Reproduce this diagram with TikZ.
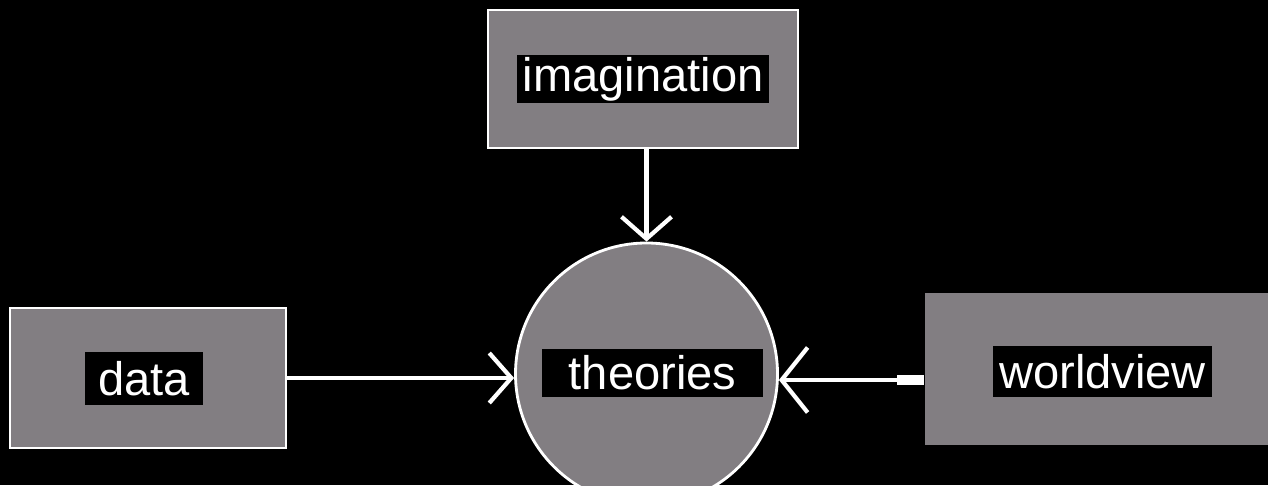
\documentclass[tikz,border=0pt]{standalone}
\usepackage{fontspec}
\setmainfont{Liberation Sans}
\usetikzlibrary{arrows.meta, calc}
\definecolor{boxgray}{RGB}{130,126,130}

\begin{document}
\begin{tikzpicture}[>={Straight Barb[length=2.2mm, width=5mm]}, line width=1.1pt,
  every node/.style={font=\fontsize{13.4pt}{16pt}\selectfont},
  box/.style={draw=white, fill=boxgray, line width=0.8pt, inner sep=0pt},
  tag/.style={fill=black, text=white, inner sep=0pt, minimum height=0.48cm},
  flow/.style={->, draw=white, line width=1.2pt}]
  \fill[black] (0,0) rectangle (12.68,4.85);
  \clip (0,0) rectangle (12.68,4.85);
  \node[box, minimum width=3.10cm, minimum height=1.38cm] (imagination) at (6.43,4.06) {};
  \node[tag, minimum width=2.52cm] (imaginationtag) at (6.43,4.06) {imagination};
  \node[box, circle, minimum size=2.62cm] (theories) at (6.465,1.11) {};
  \node[tag, minimum width=2.21cm] (theoriestag) at (6.525,1.12) {theories};
  \node[box, draw=none, minimum width=3.65cm, minimum height=1.52cm] (worldview) at (11.075,1.16) {};
  \node[tag, minimum width=2.19cm, minimum height=0.51cm] (worldviewtag) at (11.025,1.135) {worldview};
  \node[box, minimum width=2.76cm, minimum height=1.40cm] (data) at (1.48,1.07) {};
  \node[tag, minimum width=1.18cm, minimum height=0.53cm] (datatag) at (1.44,1.065) {data};
  \draw[flow] (imagination.south -| theories.north) -- (theories.north);
  \draw[flow] (data.east) -- (data.east -| theories.west);
  \draw[flow, >={Straight Barb[length=2.6mm, width=6.5mm]}] ([yshift=-1.1mm]worldview.west) -- ([yshift=-1.1mm]worldview.west -| theories.east);
  \draw[white, line width=2.6pt] ([yshift=-1.1mm]worldview.west) -- ([shift={(-0.27,-0.11)}]worldview.west);
\end{tikzpicture}
\end{document}
